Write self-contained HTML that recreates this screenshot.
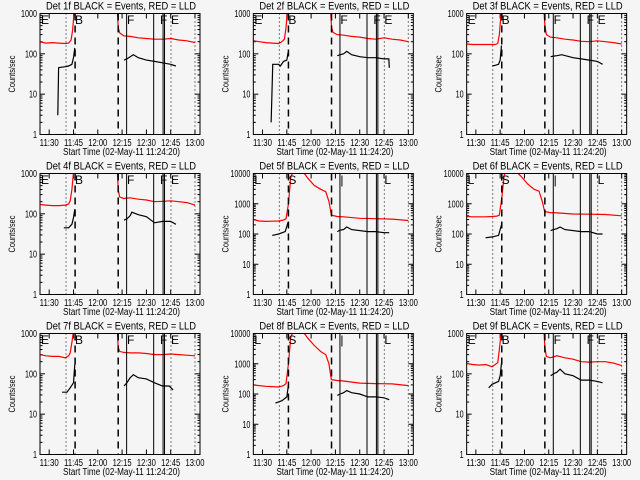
<!DOCTYPE html>
<html><head><meta charset="utf-8"><style>
html,body{margin:0;padding:0;background:#f5f5f5;}
svg{display:block;}
text{font-family:"Liberation Sans",sans-serif;fill:#000;}
</style></head><body>
<svg id="chart" width="640" height="480" xmlns="http://www.w3.org/2000/svg">
<rect width="640" height="480" fill="#f5f5f5"/>
</svg>
<script>
// ---- data (time in minutes after 11:00) ----
const detNames = ["1f","2f","3f","4f","5f","6f","7f","8f","9f"];
const yTopDecade = [3,3,3,3,4,4,3,4,3];
const xTickLabels = ["11:30","11:45","12:00","12:15","12:30","12:45","13:00"];
const xTickTimes = [30,45,60,75,90,105,120];
const eventTimes = [40.4,46,72.6,77.8,94.5,100.3,101.2,105.2,120];
const eventStyles = ["dot","dash","dash","solid","solid","solid","solid","dot","dot"];
const redTimes = [
 [24.3,28,32,36,40,42,43.5,44.5,45.5,72,72.6,73.5,76,80,85,90,95,100,105,110,115,120],
 [24.3,28,32,36,40,42,43.5,44.5,45.5,72,72.6,73.5,76,80,85,90,95,100,105,110,115,120],
 [24.3,28,32,36,40,42,43.5,44.5,45.8,72,72.6,73.5,76,80,85,90,95,100,105,110,115,120],
 [24.3,28,32,36,40,42,43,44,45.2,72,72.6,73.5,76,80,85,90,95,100,105,110,115,120],
 [24.3,28,32,36,40,43,44.5,46,47.5,49,55,58,62,66,69,71,72.5,76,80,90,100,110,120],
 [24.3,28,32,36,40,43,44.5,46,47.5,49,55,58,62,66,69,71,72.5,76,80,90,100,110,120],
 [24.3,28,32,36,40,42,43,44,45.2,72,72.6,73.5,76,80,85,90,95,100,105,110,115,120],
 [24.3,28,32,36,40,43,44.5,46,47.5,49,55,58,62,66,69,71,72.5,76,80,90,100,110,120],
 [24.3,28,32,36,40,42,43.5,44.5,45.8,72,72.6,73.5,76,80,85,90,95,100,105,110,115,120]
];
const redValues = [
 [200,185,190,185,180,185,220,400,1300,1300,450,330,280,270,250,240,230,230,240,220,210,190],
 [210,200,190,185,180,200,230,450,1300,1300,450,340,300,290,270,260,240,230,250,230,220,200],
 [175,170,170,170,170,170,180,300,1300,1300,500,300,260,250,230,220,205,200,210,200,190,175],
 [170,165,160,160,165,175,210,400,1300,1300,400,260,240,250,230,220,200,205,210,200,190,165],
 [300,270,260,265,270,290,320,1000,8000,11500,11500,7000,4000,3000,2500,1200,420,380,370,330,320,310,280],
 [380,370,370,370,380,390,420,1500,9000,11500,11500,8000,4500,3000,2600,1200,550,510,500,460,450,440,400],
 [300,280,270,270,250,280,330,600,1300,1300,450,360,340,330,330,320,300,300,310,300,290,280],
 [200,190,180,175,170,190,220,1000,8000,11500,11500,7000,4000,2500,2000,1000,300,280,270,230,220,215,190],
 [180,170,165,170,150,170,190,400,1300,1300,450,270,250,280,250,230,200,195,200,200,185,160]
];
const blackTimes = [
 [35.3,35.8,36.5,40,42,44,45,45.8,null,76.2,78,80,82,85,90,95,100,105,108.2],
 [35.3,35.8,36.3,40,41,43,45,45.8,null,76.2,78,80,82,85,90,95,100,105,108,108.3],
 [40,42,44,45,45.8,null,76.2,78,80,83,90,95,100,105,108.2],
 [39,40,42,44,45,45.8,null,76.2,78,80,81,85,90,95,100,105,108.2],
 [36,40,44,45.8,null,76.2,78,80,82,85,95,100,105,108.2],
 [36,40,44,45.8,null,76.2,78,80,82,85,95,100,105,108.2],
 [38,41,43,45,45.8,null,76.2,78,80,82,85,90,95,100,104,106.5],
 [38,42,45,46,null,76.2,78,80,82,85,90,95,100,105,108.2],
 [38,40,44,45,45.8,null,76.2,78,80,82,85,90,95,100,105,108.2]
];
const blackValues = [
 [3,45,46,48,50,55,80,140,null,70,75,85,95,80,70,65,60,55,50],
 [2,10,55,55,50,65,70,110,null,90,95,100,115,95,85,80,80,75,75,45],
 [50,52,55,70,160,null,85,88,90,95,80,75,70,65,55],
 [45,45,45,55,80,130,null,70,75,90,110,95,85,60,65,65,55],
 [90,100,120,250,null,120,135,140,170,140,120,120,110,110],
 [75,80,90,200,null,130,140,150,170,140,120,120,100,100],
 [35,35,45,60,170,null,50,60,80,95,80,75,60,50,50,40],
 [50,60,80,200,null,90,100,110,130,110,100,80,80,75,65],
 [45,55,65,90,180,null,90,100,110,130,100,90,70,70,65,60]
];
// ---- drawing ----
const NS="http://www.w3.org/2000/svg";
const svg=document.getElementById('chart');
const L=40,R=200,T=13.5,B=134.5;
function mk(tag,attrs,parent){const e=document.createElementNS(NS,tag);for(const k in attrs)e.setAttribute(k,attrs[k]);parent.appendChild(e);return e;}
function xScale(t){return L+(t-24.33)*1.62;}
for(let p=0;p<9;p++){
  const ox=(p%3)*213.33, oy=Math.floor(p/3)*160;
  const dec=yTopDecade[p];
  const yScale=v=>B-(Math.log10(v)/dec)*(B-T);
  const g=mk('g',{transform:`translate(${ox},${oy})`},svg);
  
  
  const clipId='clip'+p;
  const cp=mk('clipPath',{id:clipId},g); mk('rect',{x:L,y:T,width:R-L,height:B-T},cp);
  const title=mk('text',{x:46,y:9.5,'font-size':'11',textLength:150,lengthAdjust:'spacingAndGlyphs'},g);
  title.textContent='Det '+detNames[p]+' BLACK = Events, RED = LLD';
  
  
  // y ticks
  for(let d=0;d<=dec;d++){
    const y=yScale(Math.pow(10,d));
    mk('line',{x1:L,x2:L+5,y1:y,y2:y,stroke:'#000','stroke-width':1},g);
    mk('line',{x1:R-5,x2:R,y1:y,y2:y,stroke:'#000','stroke-width':1},g);
    const s=String(Math.pow(10,d));
    const tl=mk('text',{x:37-4*s.length,y:y+3.5,'font-size':'10',textLength:4*s.length,lengthAdjust:'spacingAndGlyphs'},g);
    tl.textContent=s;
    
    
    if(d<dec){for(let m=2;m<10;m++){const ym=yScale(m*Math.pow(10,d));
      mk('line',{x1:L,x2:L+2.5,y1:ym,y2:ym,stroke:'#000','stroke-width':1},g);
      mk('line',{x1:R-2.5,x2:R,y1:ym,y2:ym,stroke:'#000','stroke-width':1},g);}}
  }
  const yl=mk('text',{x:-18.5,y:0,'font-size':'9',textLength:37,lengthAdjust:'spacingAndGlyphs',transform:`translate(15,${(T+B)/2}) rotate(-90)`},g);
  yl.textContent='Counts/sec';
  
  
  // x ticks
  for(let i=0;i<xTickTimes.length;i++){
    const x=xScale(xTickTimes[i]);
    mk('line',{x1:x,x2:x,y1:B,y2:B-5,stroke:'#000'},g);
    mk('line',{x1:x,x2:x,y1:T,y2:T+5,stroke:'#000'},g);
    const xl=mk('text',{x:x-9.5,y:146,'font-size':'10',textLength:19,lengthAdjust:'spacingAndGlyphs'},g);
    xl.textContent=xTickLabels[i];
    
    
  }
  const xt=mk('text',{x:63,y:155,'font-size':'10',textLength:117,lengthAdjust:'spacingAndGlyphs'},g);
  xt.textContent='Start Time (02-May-11 11:24:20)';
  
  
  const cg=mk('g',{'clip-path':`url(#${clipId})`},g);
  // red series
  let pts=redTimes[p].map((t,i)=>xScale(t).toFixed(1)+','+yScale(redValues[p][i]).toFixed(1)).join(' ');
  const rl=mk('polyline',{points:pts,fill:'none',stroke:'#ff0000','stroke-width':1.2},cg);
  
  
  // black series (segments)
  let seg=[];const segs=[];
  blackTimes[p].forEach((t,i)=>{if(t===null){segs.push(seg);seg=[];}else seg.push(xScale(t).toFixed(1)+','+yScale(blackValues[p][i]).toFixed(1));});
  segs.push(seg);
  segs.forEach(s=>{const bl=mk('polyline',{points:s.join(' '),fill:'none',stroke:'#000','stroke-width':1.2},cg);
    
    });
  // event lines
  eventTimes.forEach((t,i)=>{const x=xScale(t);const st=eventStyles[i];
    const a={x1:x,x2:x,y1:T,y2:B,stroke:'#000','stroke-width':st==='dash'?1.5:1};
    if(st==='dot')a['stroke-dasharray']='1,3';
    if(st==='dash')a['stroke-dasharray']='7,5';
    const ln=mk('line',a,g);
    
    });
  const big=dec===4;
  const labs=big?[['L',41],['S',75],['|',127],['L',171]]:[['E',41],['B',75],['F',127],['F',160],['E',171]];
  labs.forEach(([s,x])=>{const t=mk('text',{x:x,y:24,'font-size':'12'},g);t.textContent=s;
    
    });
  mk('rect',{x:L,y:T,width:R-L,height:B-T,fill:'none',stroke:'#000','stroke-width':1},g);
}
</script>
</body></html>
